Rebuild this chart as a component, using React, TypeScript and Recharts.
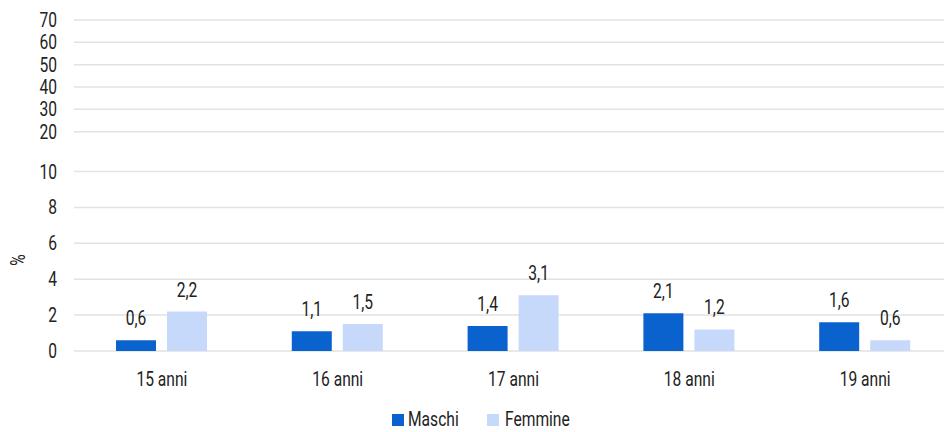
import { BarChart, Bar, XAxis, YAxis, CartesianGrid, Legend, LabelList } from 'recharts';

const categories = ['15 anni', '16 anni', '17 anni', '18 anni', '19 anni'];
const maschi = [0.6, 1.1, 1.4, 2.1, 1.6];
const femmine = [2.2, 1.5, 3.1, 1.2, 0.6];
const yTickLabels = [0, 2, 4, 6, 8, 10, 20, 30, 40, 50, 60, 70];

// asse spezzato: 0-10 lineare, poi salto, poi 20-70 compresso
const breakGap = 2.22;
const upperScale = 0.1245;
const toAxis = (v: number) => (v <= 10 ? v : 10 + breakGap + (v - 20) * upperScale);

const yTicks = yTickLabels.map(toAxis);
const data = categories.map((c, i) => ({ name: c, maschi: maschi[i], femmine: femmine[i] }));

const FONT = 'Roboto, sans-serif';
const TEXT = '#222';
const C_M = '#0a62cf';
const C_F = '#c6d9fa';
const NARROW = 0.78;

const fmt = (v: any) => String(v).replace('.', ',');

const tickLabel = (t: number) => {
  const i = yTicks.findIndex((y) => Math.abs(y - t) < 1e-6);
  return i >= 0 ? String(yTickLabels[i]) : '';
};

// testo "narrow" (il font originale e' condensato)
function NText({ x, y, anchor = 'middle', children }: any) {
  return (
    <text transform={`translate(${x},${y}) scale(${NARROW},1)`} textAnchor={anchor} fontSize={20} fill={TEXT} fontFamily={FONT}>
      {children}
    </text>
  );
}

const XTick = ({ x, y, payload }: any) => <NText x={x} y={y + 35}>{payload.value}</NText>;
const YTick = ({ x, y, payload }: any) => <NText x={x} y={y + 7} anchor="end">{tickLabel(payload.value)}</NText>;
const ValueLabel = ({ x, y, width, value }: any) => <NText x={x + width / 2} y={y - 15}>{fmt(value)}</NText>;

function LegendBox() {
  return (
    <svg width={944} height={30} style={{ display: 'block' }}>
      <rect x={392} y={12} width={12} height={12} fill={C_M} />
      <NText x={408} y={24} anchor="start">Maschi</NText>
      <rect x={487} y={12} width={12} height={12} fill={C_F} />
      <NText x={505} y={24} anchor="start">Femmine</NText>
    </svg>
  );
}

export default function App() {
  return (
    <div style={{ position: 'absolute', left: 0, top: 0, width: 944, height: 432, overflow: 'hidden', background: '#fff', fontFamily: FONT }}>
      <BarChart width={953} height={432} data={data} margin={{ top: 20, right: 0, bottom: 0, left: 0 }} barSize={40} barGap={11} barCategoryGap={42}>
        <CartesianGrid horizontal vertical={false} stroke="#e2e2e2" strokeWidth={1.5} />
        <XAxis dataKey="name" axisLine={false} tickLine={false} tickSize={0} tickMargin={0} height={51} tick={<XTick />} />
        <YAxis
          type="number"
          domain={[0, toAxis(70)]}
          ticks={yTicks}
          interval={0}
          axisLine={false}
          tickLine={false}
          tickSize={0}
          tickMargin={17}
          width={74}
          tick={<YTick />}
          label={{
            content: () => (
              <text transform="translate(25,260) rotate(-90) scale(0.78,1)" textAnchor="middle" fontSize={20} fill={TEXT} fontFamily={FONT}>
                %
              </text>
            ),
          }}
        />
        <Legend verticalAlign="bottom" height={30} content={() => <LegendBox />} />
        <Bar dataKey="maschi" name="Maschi" fill={C_M} isAnimationActive={false}>
          <LabelList dataKey="maschi" content={<ValueLabel />} />
        </Bar>
        <Bar dataKey="femmine" name="Femmine" fill={C_F} isAnimationActive={false}>
          <LabelList dataKey="femmine" content={<ValueLabel />} />
        </Bar>
      </BarChart>
    </div>
  );
}
